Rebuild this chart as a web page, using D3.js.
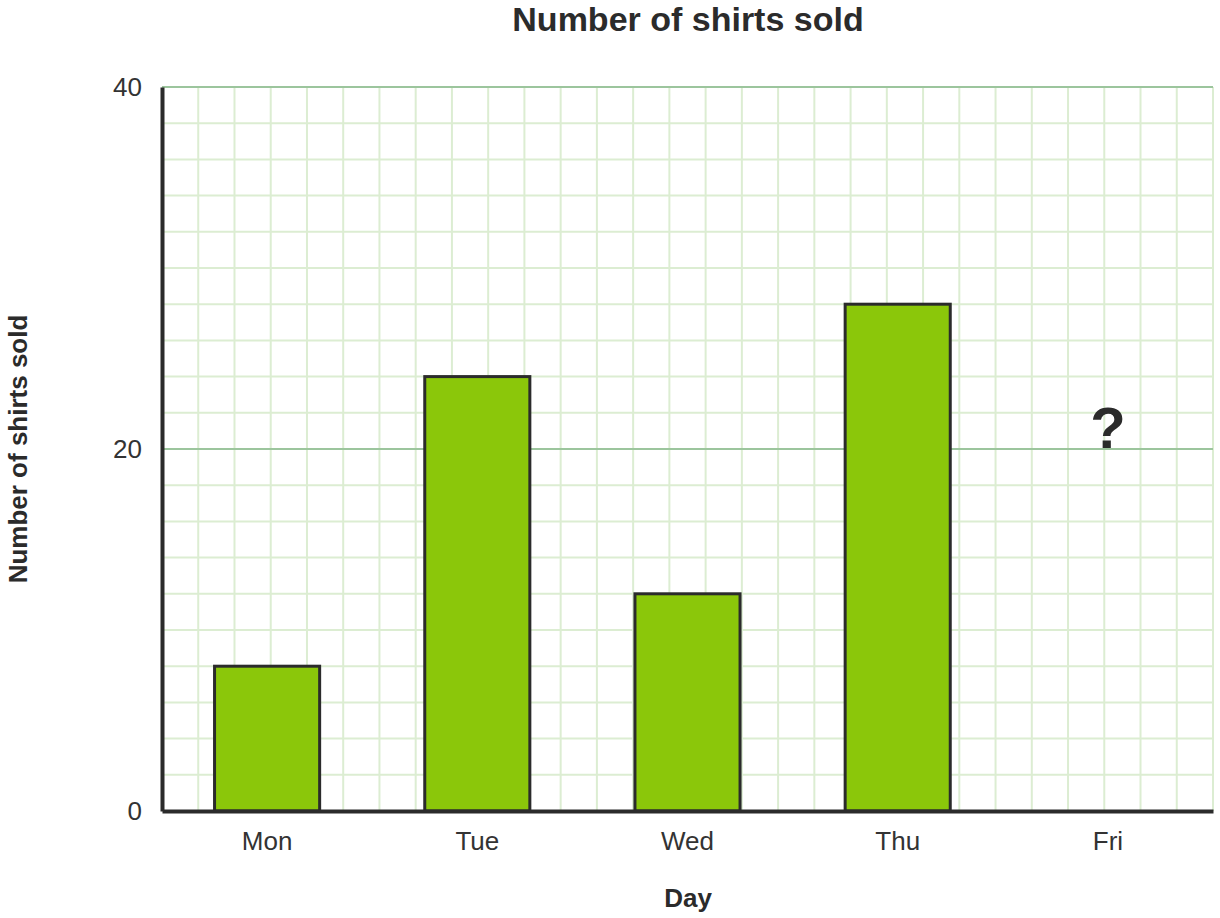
<!DOCTYPE html>
<html>
<head>
<meta charset="utf-8">
<script src="https://cdn.jsdelivr.net/npm/d3@7"></script>
<style>
  html, body { margin: 0; padding: 0; background: #fff; }
  svg { display: block; font-family: "Liberation Sans", Arial, sans-serif; }
</style>
</head>
<body>
<svg id="chart" width="1220" height="918"></svg>
<script>
const days = ["Mon", "Tue", "Wed", "Thu", "Fri"];
const shirts = [8, 24, 12, 28, null];
const yTicks = [0, 20, 40];
const unknownLabel = "?";
const unknownValue = 20;

const svg = d3.select("#chart");
const margin = { left: 162, right: 7, top: 87, bottom: 107 };
const W = 1220, H = 918;
const x0 = margin.left, x1 = W - margin.right;
const y0 = H - margin.bottom, y1 = margin.top;

const x = d3.scaleBand().domain(days).range([x0, x1]).paddingInner(0.5).paddingOuter(0.25);
const y = d3.scaleLinear().domain([0, 40]).range([y0, y1]);

// minor grid
const cell = y(0) - y(2);
const nCols = Math.round((x1 - x0) / cell);
const colStep = (x1 - x0) / nCols;
const g = svg.append("g");
g.selectAll("line.hv").data(d3.range(1, nCols + 1)).join("line")
  .attr("x1", i => x0 + i * colStep).attr("x2", i => x0 + i * colStep)
  .attr("y1", y1).attr("y2", y0)
  .attr("stroke", "#dcedd2").attr("stroke-width", 2);
g.selectAll("line.hh").data(d3.range(2, 40, 2)).join("line")
  .attr("x1", x0).attr("x2", x1)
  .attr("y1", d => y(d)).attr("y2", d => y(d))
  .attr("stroke", "#dcedd2").attr("stroke-width", 2);
// major grid
g.selectAll("line.maj").data(yTicks.filter(d => d > 0)).join("line")
  .attr("x1", x0).attr("x2", x1)
  .attr("y1", d => y(d)).attr("y2", d => y(d))
  .attr("stroke", "#9cc59d").attr("stroke-width", 2);

// bars
svg.append("g").selectAll("rect").data(days.map((d, i) => ({ d, v: shirts[i] })).filter(o => o.v != null))
  .join("rect")
  .attr("x", o => x(o.d)).attr("width", x.bandwidth())
  .attr("y", o => y(o.v)).attr("height", o => y(0) - y(o.v))
  .attr("fill", "#8bc70a").attr("stroke", "#2b2b2b").attr("stroke-width", 3);

// unknown marker
days.forEach((d, i) => {
  if (shirts[i] == null) {
    svg.append("text").attr("x", x(d) + x.bandwidth() / 2).attr("y", y(unknownValue) - 1)
      .attr("text-anchor", "middle").attr("font-size", 58).attr("font-weight", "bold")
      .attr("fill", "#2b2b2b").text(unknownLabel);
  }
});

// axes
const yAxis = d3.axisLeft(y).tickValues(yTicks).tickSize(0).tickPadding(20);
const ya = svg.append("g").attr("transform", `translate(${x0},0)`).call(yAxis);
ya.select(".domain").attr("stroke", "#2b2b2b").attr("stroke-width", 4);
ya.selectAll("text").attr("font-size", 26).attr("fill", "#333").attr("font-family", "Liberation Sans, Arial, sans-serif");

const xAxis = d3.axisBottom(x).tickSize(0).tickPadding(21);
const xa = svg.append("g").attr("transform", `translate(0,${y0})`).call(xAxis);
xa.select(".domain").attr("stroke", "#2b2b2b").attr("stroke-width", 4);
xa.selectAll("text").attr("font-size", 26).attr("fill", "#333").attr("font-family", "Liberation Sans, Arial, sans-serif");

// titles
svg.append("text").attr("x", 688).attr("y", 31).attr("text-anchor", "middle")
  .attr("font-size", 34).attr("font-weight", "bold").attr("fill", "#2b2b2b").text("Number of shirts sold");
svg.append("text").attr("x", 688).attr("y", 907).attr("text-anchor", "middle")
  .attr("font-size", 26).attr("font-weight", "bold").attr("fill", "#2b2b2b").text("Day");
svg.append("text").attr("transform", "translate(27,449) rotate(-90)").attr("text-anchor", "middle")
  .attr("font-size", 26).attr("font-weight", "bold").attr("fill", "#2b2b2b").text("Number of shirts sold");
</script>
</body>
</html>
